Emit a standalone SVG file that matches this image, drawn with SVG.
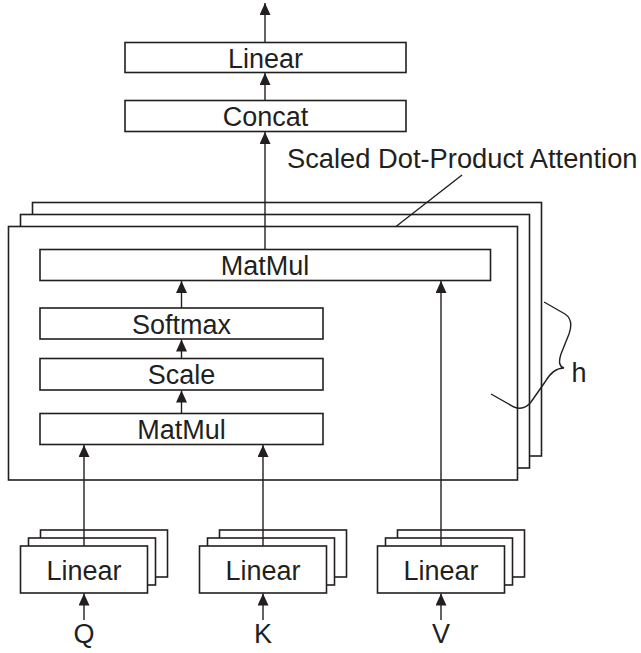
<svg xmlns="http://www.w3.org/2000/svg" width="641" height="653" viewBox="0 0 641 653">
<defs>
<style>
.box{fill:#fff;stroke:#231f20;stroke-width:1.6}
.lbl{font-family:"Liberation Sans",Arial,sans-serif;font-size:27px;fill:#231f20;text-anchor:middle}
.conn{fill:none;stroke:#231f20;stroke-width:1.4}
</style>
<marker id="arr" markerUnits="userSpaceOnUse" markerWidth="13" markerHeight="11" refX="12" refY="5.5" orient="auto">
<path d="M0,0 L12,5.5 L0,11 z" fill="#231f20"/>
</marker>
</defs>
<rect width="641" height="653" fill="#fff"/>

<g id="linear-out">
<rect class="box" x="125" y="42.5" width="281" height="30"/>
<text class="lbl" x="265.5" y="67.5">Linear</text>
</g>
<g id="concat">
<rect class="box" x="125" y="100.5" width="281" height="31"/>
<text class="lbl" x="265.5" y="125.5">Concat</text>
</g>
<g id="sdpa-label">
<text class="lbl" x="287" y="168" style="text-anchor:start;font-size:27.3px">Scaled Dot-Product Attention</text>
</g>

<g id="attention-stack">
<rect class="box" x="32.5" y="202.5" width="509" height="253.5"/>
<rect class="box" x="20.5" y="214.5" width="509" height="253.5"/>
<rect class="box" x="8.5" y="226.5" width="509" height="253.5"/>
</g>
<g id="matmul-top">
<rect class="box" x="40" y="249.5" width="450.5" height="31"/>
<text class="lbl" x="265" y="274.5">MatMul</text>
</g>
<g id="softmax">
<rect class="box" x="40" y="308" width="283" height="31"/>
<text class="lbl" x="181.5" y="333.5">Softmax</text>
</g>
<g id="scale">
<rect class="box" x="40" y="358.5" width="283" height="31.5"/>
<text class="lbl" x="181.5" y="384">Scale</text>
</g>
<g id="matmul-bottom">
<rect class="box" x="40" y="413.5" width="283" height="31"/>
<text class="lbl" x="181.5" y="438.5">MatMul</text>
</g>

<g id="linear-q">
<rect class="box" x="40.5" y="530" width="127" height="47"/>
<rect class="box" x="28.5" y="538" width="127" height="47"/>
<rect class="box" x="20.5" y="546" width="127" height="47"/>
<text class="lbl" x="84" y="579.5">Linear</text>
</g>
<g id="linear-k">
<rect class="box" x="219.5" y="530" width="127" height="47"/>
<rect class="box" x="207.5" y="538" width="127" height="47"/>
<rect class="box" x="199.5" y="546" width="127" height="47"/>
<text class="lbl" x="263" y="579.5">Linear</text>
</g>
<g id="linear-v">
<rect class="box" x="397.5" y="530" width="127" height="47"/>
<rect class="box" x="385.5" y="538" width="127" height="47"/>
<rect class="box" x="377.5" y="546" width="127" height="47"/>
<text class="lbl" x="441" y="579.5">Linear</text>
</g>

<g id="input-q"><text class="lbl" x="84" y="643">Q</text></g>
<g id="input-k"><text class="lbl" x="263" y="643">K</text></g>
<g id="input-v"><text class="lbl" x="441" y="643">V</text></g>
<g id="h-label"><text class="lbl" x="579" y="382">h</text></g>

<g id="connectors">
<line class="conn" x1="265" y1="42.5" x2="265" y2="3" marker-end="url(#arr)"/>
<line class="conn" x1="265" y1="100.5" x2="265" y2="73" marker-end="url(#arr)"/>
<line class="conn" x1="265" y1="249.5" x2="265" y2="132" marker-end="url(#arr)"/>
<line class="conn" x1="181.5" y1="308" x2="181.5" y2="281" marker-end="url(#arr)"/>
<line class="conn" x1="181.5" y1="358.5" x2="181.5" y2="339.5" marker-end="url(#arr)"/>
<line class="conn" x1="181.5" y1="413.5" x2="181.5" y2="390.5" marker-end="url(#arr)"/>
<line class="conn" x1="84" y1="546" x2="84" y2="445" marker-end="url(#arr)"/>
<line class="conn" x1="263" y1="546" x2="263" y2="445" marker-end="url(#arr)"/>
<line class="conn" x1="441" y1="546" x2="441" y2="281" marker-end="url(#arr)"/>
<line class="conn" x1="84" y1="620" x2="84" y2="593.5" marker-end="url(#arr)"/>
<line class="conn" x1="263" y1="620" x2="263" y2="593.5" marker-end="url(#arr)"/>
<line class="conn" x1="441" y1="620" x2="441" y2="593.5" marker-end="url(#arr)"/>
<line class="conn" x1="396" y1="226.5" x2="462" y2="175"/>
<path class="conn" d="M544,302 L565,314 Q574,320 569,334 L561,354 Q557,366 564,368 Q553,368 545,382 L531,402 Q524,411 514,407 L491,394"/>
</g>
</svg>
